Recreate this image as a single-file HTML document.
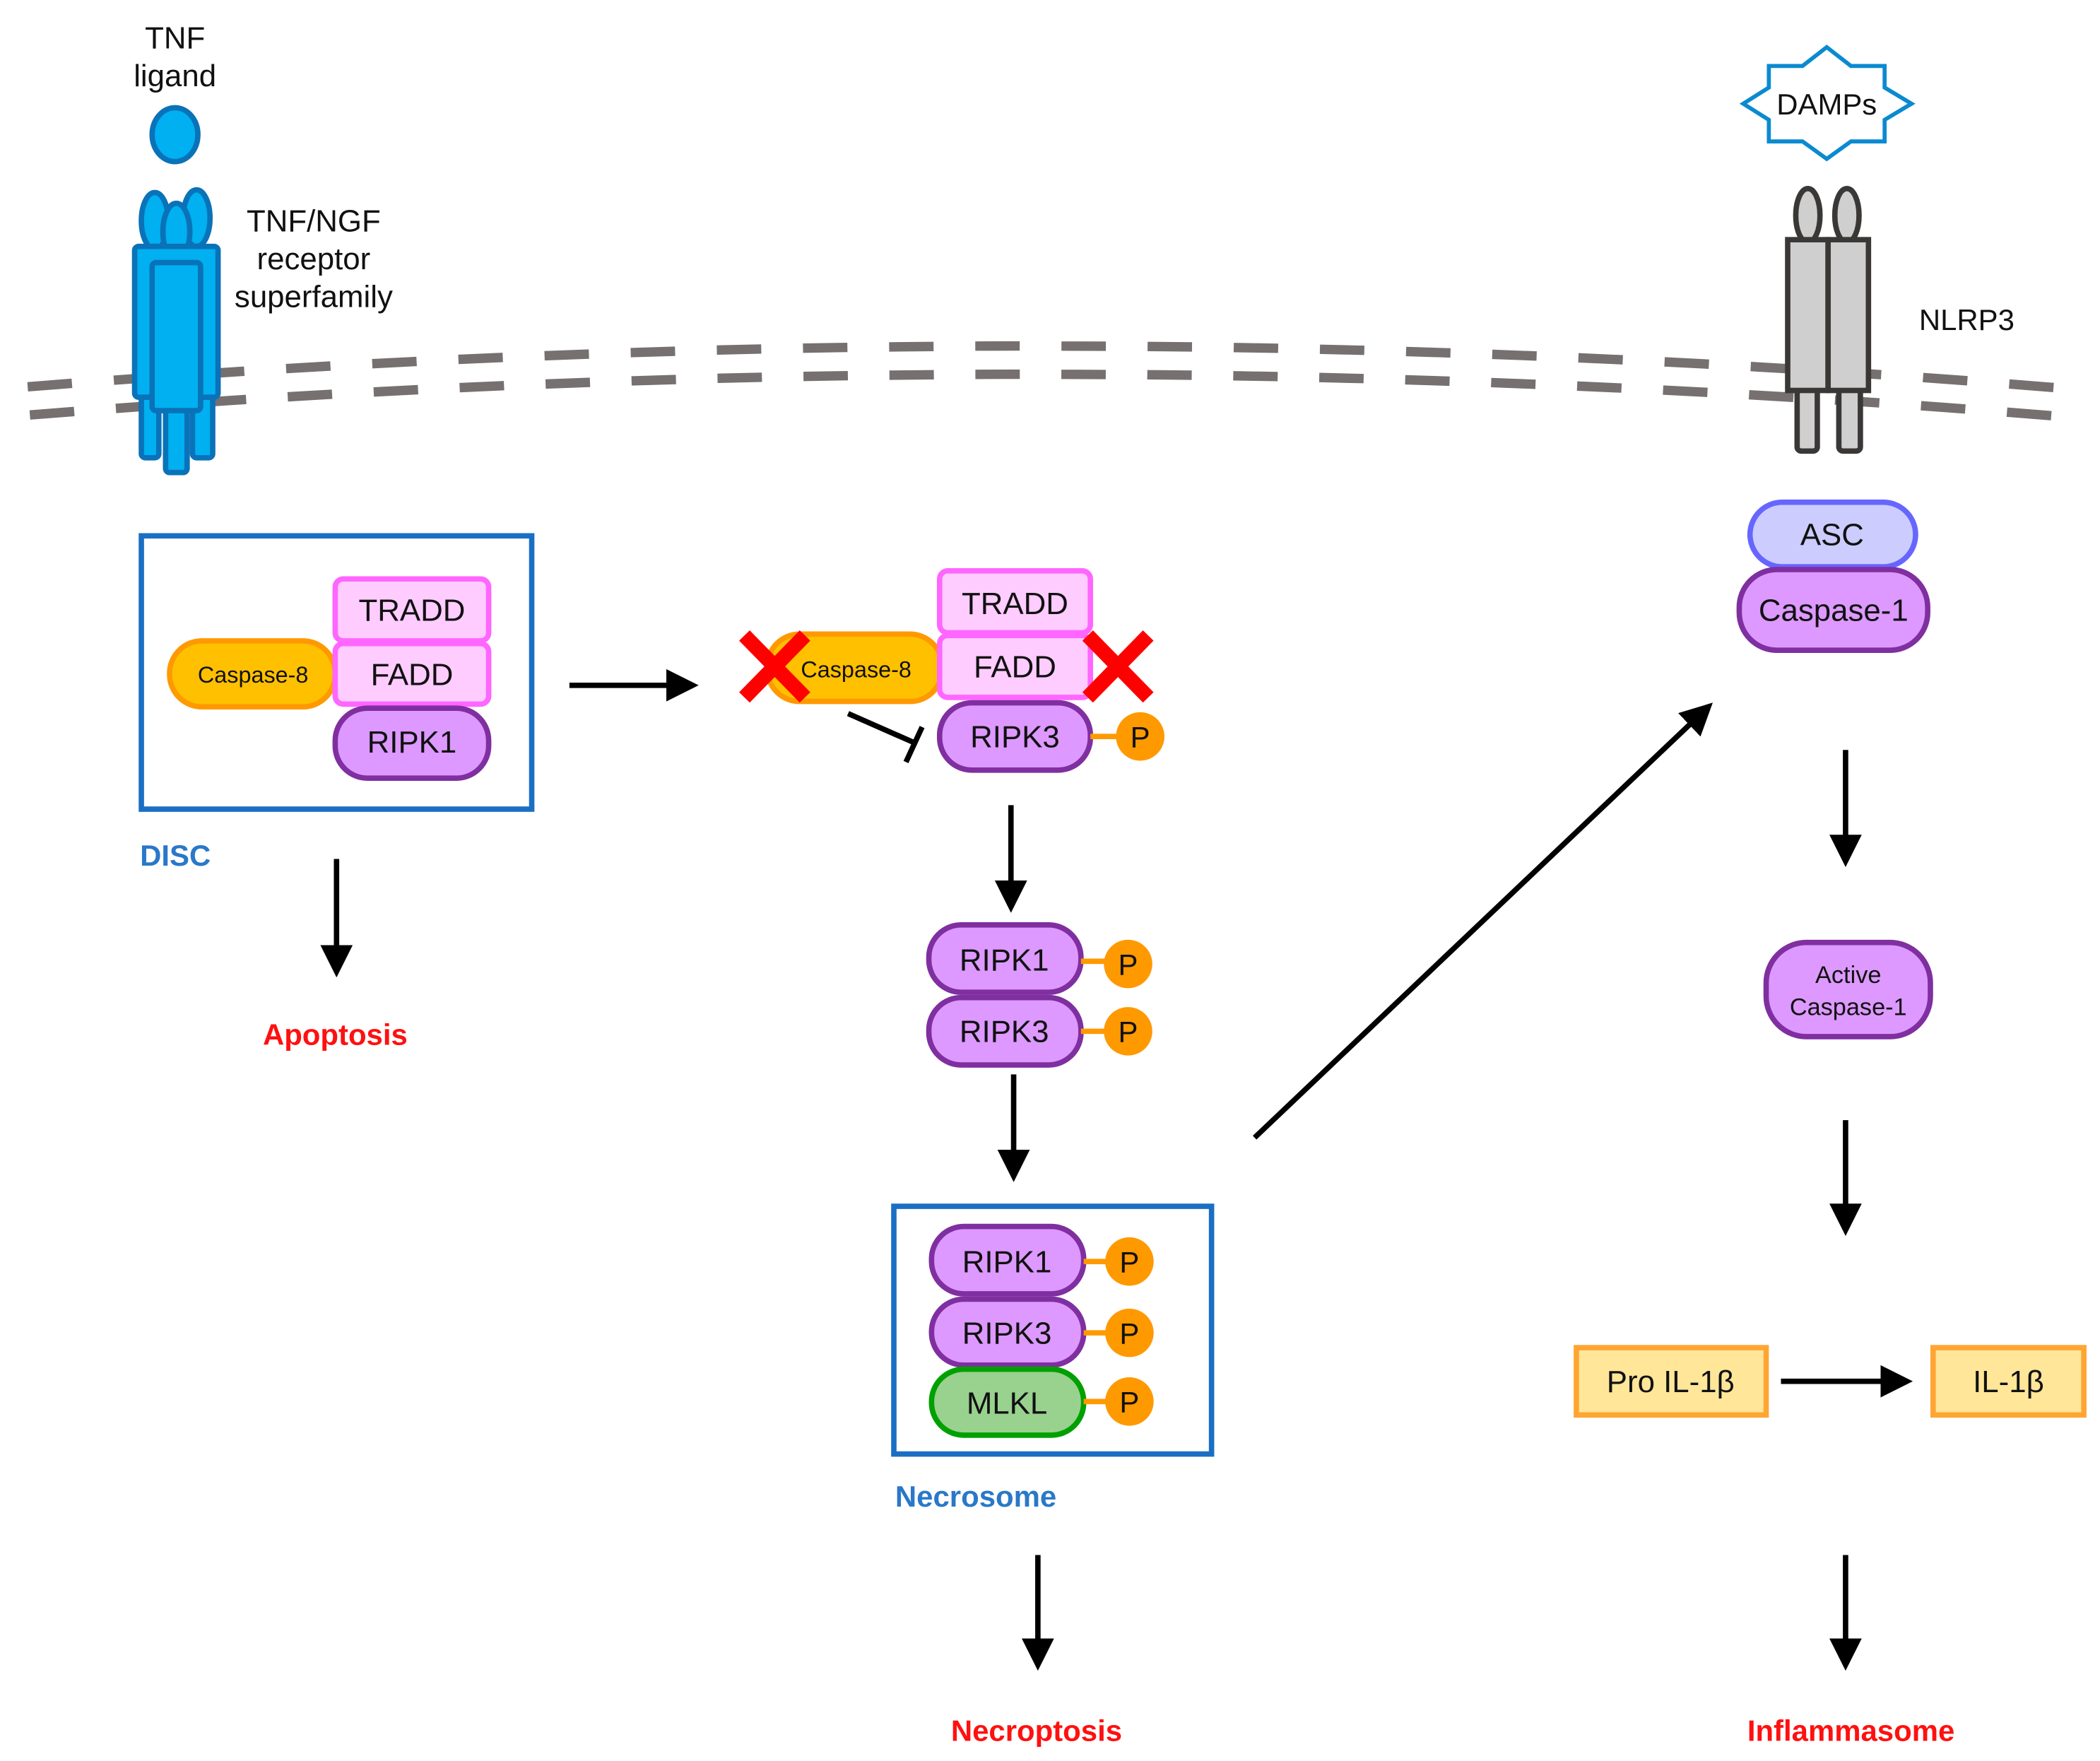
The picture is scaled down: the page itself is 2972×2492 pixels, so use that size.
<!DOCTYPE html>
<html><head><meta charset="utf-8"><style>
html,body{margin:0;padding:0;background:#fff;}
svg{display:block;}
text{font-family:"Liberation Sans",Arial,sans-serif;fill:#111;}
</style></head><body>
<svg width="2972" height="2492" viewBox="0 0 1560 1308" xmlns="http://www.w3.org/2000/svg">
<defs>
<marker id="ah" markerWidth="6" markerHeight="6" refX="4.5" refY="3" orient="auto" markerUnits="strokeWidth">
<path d="M0,0 L6,3 L0,6 Z" fill="#000"/></marker>
<g id="bp"><rect x="-16.5" y="-3.5" width="33" height="7"/><rect x="-16.5" y="17.5" width="33" height="7"/></g>
</defs>
<!-- membrane -->
<g fill="#767070">
<use href="#bp" transform="translate(37,286) rotate(-4.53)"/>
<use href="#bp" transform="translate(101,281.2) rotate(-4.13)"/>
<use href="#bp" transform="translate(165,276.8) rotate(-3.74)"/>
<use href="#bp" transform="translate(229,272.8) rotate(-3.34)"/>
<use href="#bp" transform="translate(293,269.3) rotate(-2.95)"/>
<use href="#bp" transform="translate(357,266.2) rotate(-2.55)"/>
<use href="#bp" transform="translate(421,263.6) rotate(-2.16)"/>
<use href="#bp" transform="translate(485,261.4) rotate(-1.76)"/>
<use href="#bp" transform="translate(549,259.6) rotate(-1.37)"/>
<use href="#bp" transform="translate(613,258.3) rotate(-0.97)"/>
<use href="#bp" transform="translate(677,257.5) rotate(-0.58)"/>
<use href="#bp" transform="translate(741,257) rotate(-0.18)"/>
<use href="#bp" transform="translate(805,257.1) rotate(0.22)"/>
<use href="#bp" transform="translate(869,257.5) rotate(0.61)"/>
<use href="#bp" transform="translate(933,258.4) rotate(1.01)"/>
<use href="#bp" transform="translate(997,259.8) rotate(1.40)"/>
<use href="#bp" transform="translate(1061,261.6) rotate(1.80)"/>
<use href="#bp" transform="translate(1125,263.8) rotate(2.20)"/>
<use href="#bp" transform="translate(1189,266.5) rotate(2.59)"/>
<use href="#bp" transform="translate(1253,269.6) rotate(2.99)"/>
<use href="#bp" transform="translate(1317,273.2) rotate(3.38)"/>
<use href="#bp" transform="translate(1381,277.2) rotate(3.78)"/>
<use href="#bp" transform="translate(1445,281.6) rotate(4.17)"/>
<use href="#bp" transform="translate(1509,286.5) rotate(4.57)"/>
</g>
<!-- TNF -->
<text x="130" y="36" font-size="23" text-anchor="middle">TNF</text>
<text x="130" y="64" font-size="23" text-anchor="middle">ligand</text>
<ellipse cx="130" cy="100" rx="17" ry="20" fill="#00b0f0" stroke="#0a72b8" stroke-width="4"/>
<g fill="#00b0f0" stroke="#0a72b8" stroke-width="4">
<ellipse cx="115" cy="164" rx="10" ry="21"/><ellipse cx="146" cy="162" rx="10" ry="21"/><ellipse cx="131" cy="172" rx="10" ry="21"/>
<rect x="105" y="290" width="13" height="50" rx="3"/><rect x="143" y="290" width="15" height="50" rx="3"/><rect x="123" y="295" width="16" height="56" rx="3"/>
<rect x="100" y="183" width="62" height="112" rx="3"/><rect x="113" y="195" width="36" height="110" rx="3"/>
</g>
<text x="233" y="172" font-size="23" text-anchor="middle">TNF/NGF</text>
<text x="233" y="200" font-size="23" text-anchor="middle">receptor</text>
<text x="233" y="228" font-size="23" text-anchor="middle">superfamily</text>
<!-- DISC -->
<rect x="105" y="398" width="290" height="203" fill="none" stroke="#1a6fc4" stroke-width="4"/>
<text x="104" y="643" font-size="22" font-weight="bold" style="fill:#2a78c8">DISC</text>
<rect x="126" y="476" width="123" height="49" rx="24" fill="#ffc000" stroke="#ff9900" stroke-width="4"/>
<text x="188" y="507" font-size="17" text-anchor="middle">Caspase-8</text>
<rect x="249" y="430" width="114" height="46" rx="6" fill="#ffccff" stroke="#ff66ff" stroke-width="4"/>
<text x="306" y="461" font-size="23" text-anchor="middle">TRADD</text>
<rect x="249" y="478" width="114" height="45" rx="6" fill="#ffccff" stroke="#ff66ff" stroke-width="4"/>
<text x="306" y="509" font-size="23" text-anchor="middle">FADD</text>
<rect x="249" y="526" width="114" height="52" rx="24" fill="#dd99ff" stroke="#7f2fa0" stroke-width="4"/>
<text x="306" y="559" font-size="23" text-anchor="middle">RIPK1</text>
<line x1="423" y1="509" x2="513" y2="509" stroke="#000" stroke-width="4" marker-end="url(#ah)"/>
<line x1="250" y1="638" x2="250" y2="720" stroke="#000" stroke-width="4" marker-end="url(#ah)"/>
<text x="249" y="776" font-size="22" font-weight="bold" text-anchor="middle" style="fill:#ff1010">Apoptosis</text>
<!-- middle complex -->
<rect x="570" y="471" width="130" height="50" rx="24" fill="#ffc000" stroke="#ff9900" stroke-width="4"/>
<text x="636" y="503" font-size="17" text-anchor="middle">Caspase-8</text>
<rect x="698" y="424" width="112" height="46" rx="6" fill="#ffccff" stroke="#ff66ff" stroke-width="4"/>
<text x="754" y="456" font-size="23" text-anchor="middle">TRADD</text>
<rect x="698" y="472" width="112" height="46" rx="6" fill="#ffccff" stroke="#ff66ff" stroke-width="4"/>
<text x="754" y="503" font-size="23" text-anchor="middle">FADD</text>
<g stroke="#ff0000" stroke-width="11">
<line x1="553" y1="472" x2="598" y2="518"/><line x1="598" y1="472" x2="553" y2="518"/>
<line x1="808" y1="472" x2="853" y2="518"/><line x1="853" y1="472" x2="808" y2="518"/>
</g>
<rect x="698" y="522" width="112" height="50" rx="24" fill="#dd99ff" stroke="#7f2fa0" stroke-width="4"/>
<text x="754" y="555" font-size="23" text-anchor="middle">RIPK3</text>
<line x1="810" y1="547" x2="832" y2="547" stroke="#ff9900" stroke-width="4"/>
<circle cx="847" cy="547" r="18" fill="#ff9900"/><text x="847" y="555" font-size="22" text-anchor="middle">P</text>
<line x1="630" y1="530" x2="680" y2="552" stroke="#000" stroke-width="4"/>
<line x1="673" y1="566" x2="685" y2="540" stroke="#000" stroke-width="4"/>
<line x1="751" y1="598" x2="751" y2="672" stroke="#000" stroke-width="4" marker-end="url(#ah)"/>
<rect x="690" y="687" width="113" height="50" rx="24" fill="#dd99ff" stroke="#7f2fa0" stroke-width="4"/>
<text x="746" y="721" font-size="23" text-anchor="middle">RIPK1</text>
<line x1="803" y1="714" x2="825" y2="714" stroke="#ff9900" stroke-width="4"/>
<circle cx="838" cy="716" r="18" fill="#ff9900"/><text x="838" y="724" font-size="22" text-anchor="middle">P</text>
<rect x="690" y="741" width="113" height="50" rx="24" fill="#dd99ff" stroke="#7f2fa0" stroke-width="4"/>
<text x="746" y="774" font-size="23" text-anchor="middle">RIPK3</text>
<line x1="803" y1="766" x2="825" y2="766" stroke="#ff9900" stroke-width="4"/>
<circle cx="838" cy="766" r="18" fill="#ff9900"/><text x="838" y="774" font-size="22" text-anchor="middle">P</text>
<line x1="753" y1="798" x2="753" y2="872" stroke="#000" stroke-width="4" marker-end="url(#ah)"/>
<!-- Necrosome -->
<rect x="664" y="896" width="236" height="184" fill="none" stroke="#1a6fc4" stroke-width="4"/>
<rect x="692" y="911" width="113" height="50" rx="24" fill="#dd99ff" stroke="#7f2fa0" stroke-width="4"/>
<text x="748" y="945" font-size="23" text-anchor="middle">RIPK1</text>
<line x1="805" y1="937" x2="826" y2="937" stroke="#ff9900" stroke-width="4"/>
<circle cx="839" cy="937" r="18" fill="#ff9900"/><text x="839" y="945" font-size="22" text-anchor="middle">P</text>
<rect x="692" y="965" width="113" height="49" rx="24" fill="#dd99ff" stroke="#7f2fa0" stroke-width="4"/>
<text x="748" y="998" font-size="23" text-anchor="middle">RIPK3</text>
<line x1="805" y1="990" x2="826" y2="990" stroke="#ff9900" stroke-width="4"/>
<circle cx="839" cy="990" r="18" fill="#ff9900"/><text x="839" y="998" font-size="22" text-anchor="middle">P</text>
<rect x="692" y="1017" width="113" height="49" rx="24" fill="#99d18f" stroke="#00a000" stroke-width="4"/>
<text x="748" y="1050" font-size="23" text-anchor="middle">MLKL</text>
<line x1="805" y1="1041" x2="826" y2="1041" stroke="#ff9900" stroke-width="4"/>
<circle cx="839" cy="1041" r="18" fill="#ff9900"/><text x="839" y="1049" font-size="22" text-anchor="middle">P</text>
<text x="665" y="1119" font-size="22" font-weight="bold" style="fill:#2a78c8">Necrosome</text>
<line x1="771" y1="1155" x2="771" y2="1235" stroke="#000" stroke-width="4" marker-end="url(#ah)"/>
<text x="770" y="1293" font-size="22" font-weight="bold" text-anchor="middle" style="fill:#ff1010">Necroptosis</text>
<line x1="932" y1="845" x2="1268" y2="526" stroke="#000" stroke-width="4" marker-end="url(#ah)"/>
<!-- right -->
<polygon points="1357,35 1375,49 1400,49 1400,65 1420,77 1400,89 1400,105 1375,105 1357,118 1339,105 1314,105 1314,89 1295,77 1314,65 1314,49 1339,49" fill="#fff" stroke="#0a8ad0" stroke-width="3"/>
<text x="1357" y="85" font-size="22" text-anchor="middle">DAMPs</text>
<g fill="#cfcfcf" stroke="#3a3836" stroke-width="4">
<ellipse cx="1343" cy="160" rx="9" ry="20"/><ellipse cx="1372" cy="160" rx="9" ry="20"/>
<rect x="1335" y="285" width="15" height="50" rx="3"/><rect x="1366" y="285" width="16" height="50" rx="3"/>
<rect x="1328" y="178" width="30" height="112"/><rect x="1358" y="178" width="30" height="112"/>
</g>
<text x="1461" y="245" font-size="22" text-anchor="middle">NLRP3</text>
<rect x="1300" y="373" width="123" height="48" rx="24" fill="#ccccff" stroke="#6666ff" stroke-width="4"/>
<text x="1361" y="405" font-size="23" text-anchor="middle">ASC</text>
<rect x="1292" y="423" width="140" height="60" rx="28" fill="#dd99ff" stroke="#7f2fa0" stroke-width="4"/>
<text x="1362" y="461" font-size="23" text-anchor="middle">Caspase-1</text>
<line x1="1371" y1="557" x2="1371" y2="638" stroke="#000" stroke-width="4" marker-end="url(#ah)"/>
<rect x="1312" y="700" width="122" height="70" rx="30" fill="#dd99ff" stroke="#7f2fa0" stroke-width="4"/>
<text x="1373" y="730" font-size="18" text-anchor="middle">Active</text>
<text x="1373" y="754" font-size="18" text-anchor="middle">Caspase-1</text>
<line x1="1371" y1="832" x2="1371" y2="912" stroke="#000" stroke-width="4" marker-end="url(#ah)"/>
<rect x="1171" y="1001" width="141" height="50" fill="#ffe699" stroke="#ffa533" stroke-width="4"/>
<text x="1241" y="1034" font-size="23" text-anchor="middle">Pro IL-1β</text>
<line x1="1323" y1="1026" x2="1415" y2="1026" stroke="#000" stroke-width="4" marker-end="url(#ah)"/>
<rect x="1436" y="1001" width="112" height="50" fill="#ffe699" stroke="#ffa533" stroke-width="4"/>
<text x="1492" y="1034" font-size="23" text-anchor="middle">IL-1β</text>
<line x1="1371" y1="1155" x2="1371" y2="1235" stroke="#000" stroke-width="4" marker-end="url(#ah)"/>
<text x="1375" y="1293" font-size="22" font-weight="bold" text-anchor="middle" style="fill:#ff1010">Inflammasome</text>
</svg>
</body></html>
